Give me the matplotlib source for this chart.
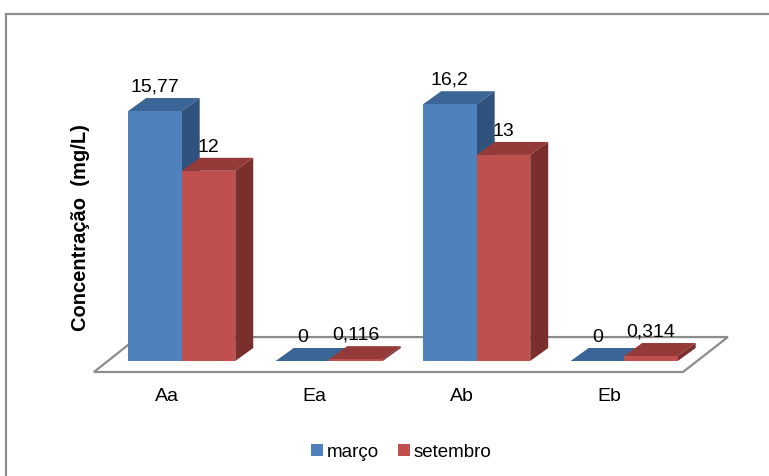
import numpy as np
import matplotlib
matplotlib.use('Agg')
from matplotlib import pyplot as plt
from matplotlib.patches import Polygon, Rectangle, Patch

plt.rcParams['font.family'] = ['Liberation Sans', 'DejaVu Sans']

categorias = ['Aa', 'Ea', 'Ab', 'Eb']
marco = [15.77, 0, 16.2, 0]
setembro = [12, 0.116, 13, 0.314]
rotulos_marco = ['15,77', '0', '16,2', '0']
rotulos_setembro = ['12', '0,116', '13', '0,314']

# cores: frente, topo, lado
cores_marco = ('#4F81BD', '#3B6596', '#30537E')
cores_set = ('#C0504D', '#943B39', '#7A2F2D')

fig = plt.figure(figsize=(7.69, 4.76), dpi=100)

# moldura externa cinza
fig.patches.append(Rectangle((6/769, -0.1), 1.1, 1 - 14/476 + 0.1, transform=fig.transFigure,
                             fill=False, edgecolor='#8c8c8c', lw=1.6))

ax = fig.add_axes([0, 0.1417, 1, 0.6993])
ax.set_xlim(-1.232, 3.982)
ax.set_ylim(-3, 18)
ax.axis('off')

w = 0.363      # largura de cada barra
dx = 0.122     # profundidade em x
dy = 0.82      # profundidade em y

# piso
piso = Polygon([(-0.595, -0.694), (3.399, -0.694), (3.703, 1.51), (-0.296, 1.51)],
               closed=True, facecolor='white', edgecolor='#8c8c8c', lw=1.6, zorder=1)
ax.add_patch(piso)


def barra3d(x0, h, cores):
    frente, topo, lado = cores
    ax.add_patch(Polygon([(x0, h), (x0 + w, h), (x0 + w + dx, h + dy), (x0 + dx, h + dy)],
                         closed=True, facecolor=topo, edgecolor='none', zorder=2))
    ax.add_patch(Polygon([(x0 + w, 0), (x0 + w + dx, dy), (x0 + w + dx, h + dy), (x0 + w, h)],
                         closed=True, facecolor=lado, edgecolor='none', zorder=2))
    ax.add_patch(Rectangle((x0, 0), w, h, facecolor=frente, edgecolor='none', zorder=2))


x = np.arange(len(categorias))
for i in x:
    barra3d(i - w, marco[i], cores_marco)
    barra3d(i, setembro[i], cores_set)
    ax.text(i - w/2, marco[i] + 1.5, rotulos_marco[i], ha='center', va='center', fontsize=14, zorder=3)
    ax.text(i + w/2, setembro[i] + 1.5, rotulos_setembro[i], ha='center', va='center', fontsize=14, zorder=3)
    ax.text(i - 0.1, -2.21, categorias[i], ha='center', va='center', fontsize=14, zorder=3)

fig.text(80/769, 1 - 228/476, 'Concentração  (mg/L)', rotation=90, ha='center', va='center',
         fontsize=14.5, fontweight='bold')

handles = [Patch(facecolor=cores_marco[0], label='março'),
           Patch(facecolor=cores_set[0], label='setembro')]
fig.legend(handles=handles, loc='center', bbox_to_anchor=(0.522, 0.05), ncol=2, frameon=False,
           fontsize=13.5, handlelength=0.65, handleheight=0.65, handletextpad=0.2, columnspacing=1.0)

fig.savefig('out.png', dpi=100)
